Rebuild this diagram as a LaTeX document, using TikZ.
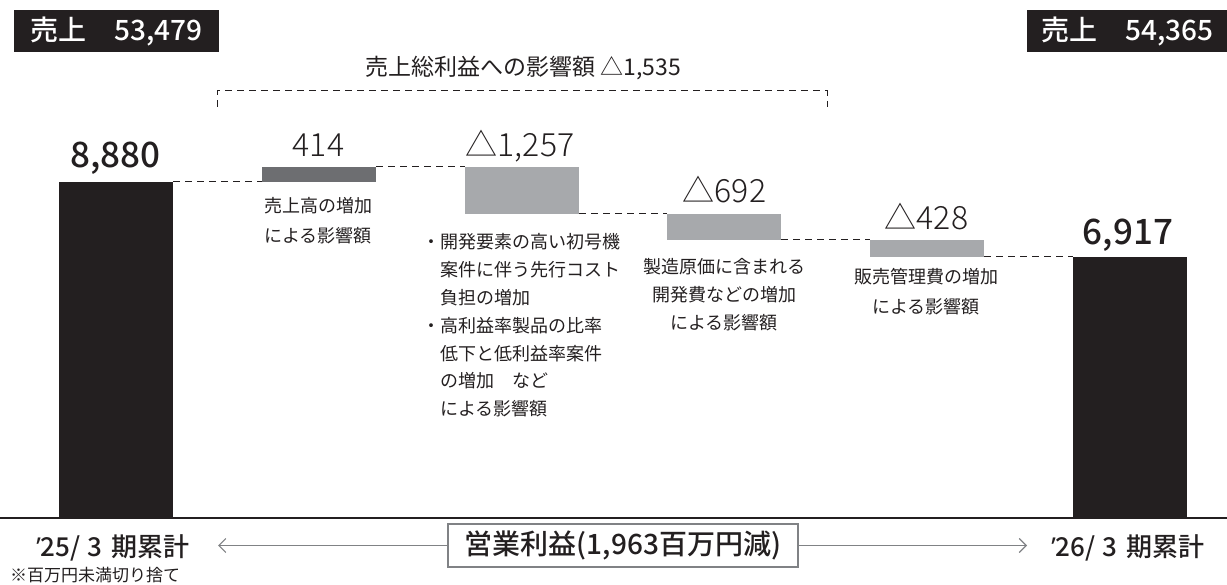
\documentclass[tikz,border=0pt]{standalone}
\usepackage{fontspec}
\setmainfont{Noto Sans CJK JP}
\newfontfamily\latinfont{Noto Sans}
\IfFontExistsTF{Noto Sans CJK JP Light}{\newfontfamily\lightfont{Noto Sans CJK JP Light}}{\newcommand\lightfont{}}
\IfFontExistsTF{Noto Sans CJK JP Medium}{\newfontfamily\medfont{Noto Sans CJK JP Medium}}{\newcommand\medfont{\bfseries}}
\usetikzlibrary{arrows.meta}
\definecolor{ink}{HTML}{231F20}
\definecolor{dgrey}{HTML}{6D6E71}
\definecolor{lgrey}{HTML}{A7A9AC}
\definecolor{agrey}{HTML}{808285}
\newcommand{\pxs}[1]{\fontsize{#1}{#1}\selectfont}
\begin{document}
\begin{tikzpicture}[x=1pt,y=-1pt, color=ink,
  bar/.style={rectangle, inner sep=0pt, outer sep=0pt, minimum width=114pt, anchor=north west, draw=none},
  lead/.style={draw=ink, line width=1pt, dash pattern=on 7pt off 5pt},
  lbl/.style={anchor=base, inner sep=0pt, font=\pxs{18}},
  lblw/.style={anchor=base west, inner sep=0pt, font=\pxs{18}},
  delta/.style={anchor=base, inner sep=0pt, font=\lightfont\pxs{32}},
  total/.style={anchor=base, inner sep=0pt, font=\medfont\pxs{35}},
  hdr/.style={rectangle, fill=ink, text=white, inner sep=0pt, anchor=north west, minimum height=42pt, font=\medfont\pxs{28}},
  period/.style={anchor=base, inner sep=0pt, font=\medfont\pxs{26}},
  arr/.style={draw=agrey, line width=1.1pt, -{Straight Barb[length=7pt,width=14pt,line width=1.1pt]}},
]
\useasboundingbox (0,0) rectangle (1227,585);
% bars
\node[bar, fill=ink, minimum height=336pt] (b1) at (59,182) {};
\node[bar, fill=dgrey, minimum height=15pt] (b2) at (262,167) {};
\node[bar, fill=lgrey, minimum height=47pt] (b3) at (465,167) {};
\node[bar, fill=lgrey, minimum height=26pt] (b4) at (667,214) {};
\node[bar, fill=lgrey, minimum height=17pt] (b5) at (870,240) {};
\node[bar, fill=ink, minimum height=261pt] (b6) at (1073,257) {};
% dashed leaders
\draw[lead] (b1.north east) -- (b2.south west);
\draw[lead] (b2.north east) -- (b3.north west);
\draw[lead] (b3.south east) -- (b4.north west);
\draw[lead] (b4.south east) -- (b5.north west);
\draw[lead] (b5.south east) -- (b6.north west);
% axis
\coordinate (axl) at (0,518);
\coordinate (axr) at (1227,518);
\draw[line width=1.4pt, ink] (axl) -- (axr);
% bracket
\coordinate (bl) at (217,107);
\coordinate (tl) at (217,91);
\coordinate (tr) at (827,91);
\coordinate (br) at (827,107);
\draw[lead] (bl) -- (tl) -- (tr) -- (br);
% headers
\node[hdr, minimum width=205pt] (h1) at (14,10) {売上　53,479};
\node[hdr, minimum width=200pt] (h2) at (1027,10) {売上　54,365};
% title
\node[anchor=base, inner sep=0pt, font=\pxs{23}] (ttl) at (523,76) {売上総利益への影響額 △1,535};
% values
\node[total] (v1) at (115.5,168) {8,880};
\node[delta] (v2) at (318.5,157) {414};
\node[delta] (v3) at (520,157) {△1,257};
\node[delta] (v4) at (724.5,203) {△692};
\node[delta] (v5) at (926.5,230) {△428};
\node[total] (v6) at (1128,245) {6,917};
% labels
\node[lbl] (l2a) at (318,213) {売上高の増加};
\node[lbl] (l2b) at (318,243) {による影響額};
\node[lblw] (l3a) at (422,249) {・開発要素の高い初号機};
\node[lblw] (l3b) at (440,277) {案件に伴う先行コスト};
\node[lblw] (l3c) at (440,305) {負担の増加};
\node[lblw] (l3d) at (422,333) {・高利益率製品の比率};
\node[lblw] (l3e) at (440,361) {低下と低利益率案件};
\node[lblw] (l3f) at (440,388) {の増加　など};
\node[lblw] (l3g) at (440,416) {による影響額};
\node[lbl] (l4a) at (724,274) {製造原価に含まれる};
\node[lbl] (l4b) at (724,302) {開発費などの増加};
\node[lbl] (l4c) at (724,330) {による影響額};
\node[lbl] (l5a) at (926,284) {販売管理費の増加};
\node[lbl] (l5b) at (926,314) {による影響額};
% bottom
\node[draw=agrey, line width=2pt, fill=white, minimum width=350pt, minimum height=43pt, inner sep=0pt, font=\medfont\pxs{28}] (box) at (623,545.5) {営業利益(1,963百万円減)};
\coordinate (la) at (218,545.5);
\coordinate (ra) at (1027,545.5);
\draw[arr] (box.west) -- (la);
\draw[arr] (box.east) -- (ra);
\node[period] (p1) at (113,556) {{\latinfont ’}25/\hspace{7pt}3\hspace{9pt}期累計};
\node[period] (p2) at (1128,556) {{\latinfont ’}26/\hspace{7pt}3\hspace{9pt}期累計};
\node[anchor=base west, inner sep=0pt, font=\pxs{17}] (fn) at (10,581) {※百万円未満切り捨て};
\end{tikzpicture}
\end{document}
